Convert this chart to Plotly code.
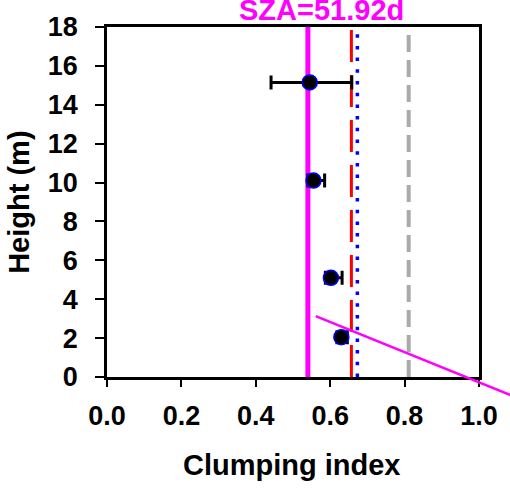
import plotly.graph_objects as go

# Data
height = [15.15, 10.1, 5.1, 2.05]
clump = [0.545, 0.555, 0.602, 0.630]
err_plus = [0.113, 0.03, 0.03, 0.016]
err_minus = [0.104, 0.015, 0.015, 0.012]

ref_magenta = 0.540
ref_red = 0.657
ref_blue = 0.673
ref_gray = 0.811
y_range = [0, 18]
x_ticks = [0.0, 0.2, 0.4, 0.6, 0.8, 1.0]
x_ticklabels = ["0.0", "0.2", "0.4", "0.6", "0.8", "1.0"]
y_ticks = [0, 2, 4, 6, 8, 10, 12, 14, 16, 18]
title_text = "SZA=51.92d"
x_title = "Clumping index"
y_title = "Height (m)"
# decorative diagonal line in paper coords
diag_x = [0.561, 1.10]
diag_y = [0.174, -0.058]

FONT = "Liberation Sans"

fig = go.Figure()

def vline(x, color, width, dash):
    fig.add_trace(go.Scatter(x=[x, x], y=y_range, mode="lines",
                             line=dict(color=color, width=width, dash=dash),
                             hoverinfo="skip", showlegend=False))

vline(ref_gray, "#aaaaaa", 4, "17px,8px")
vline(ref_magenta, "#ff00ff", 5, "solid")
vline(ref_red, "#ff0000", 3, "32px,13px")
vline(ref_blue, "#0000ff", 3.5, "3.5px,8.2px")

fig.add_trace(go.Scatter(
    x=clump, y=height, mode="markers",
    marker=dict(color="black", size=15, line=dict(color="#0000ff", width=1.5)),
    error_x=dict(type="data", array=err_plus, arrayminus=err_minus,
                 color="black", thickness=3, width=7, symmetric=False),
    showlegend=False, cliponaxis=False))

fig.add_shape(type="line", xref="paper", yref="paper",
              x0=diag_x[0], y0=diag_y[0], x1=diag_x[1], y1=diag_y[1],
              line=dict(color="#ff00ff", width=2.5))

fig.add_annotation(text="<b>" + title_text + "</b>", xref="paper", yref="paper",
                   x=0.577, y=0.996, xanchor="center", yanchor="bottom",
                   showarrow=False, font=dict(family=FONT, size=29, color="#ff00ff"))

fig.add_annotation(text="<b>" + x_title + "</b>", xref="paper", yref="paper",
                   x=0.497, y=-0.252, xanchor="center", yanchor="middle",
                   showarrow=False, font=dict(family=FONT, size=29, color="black"))
fig.add_annotation(text="<b>" + y_title + "</b>", xref="paper", yref="paper",
                   x=-0.237, y=0.5, xanchor="center", yanchor="middle", textangle=-90,
                   showarrow=False, font=dict(family=FONT, size=29, color="black"))

fig.update_layout(
    width=510, height=489,
    margin=dict(l=107, r=27, t=20, b=112),
    plot_bgcolor="white", paper_bgcolor="white",
    font=dict(family=FONT, color="black"),
    xaxis=dict(range=[0, 1.0], tickvals=x_ticks, ticktext=["<b>%s</b>" % t for t in x_ticklabels],
               showgrid=False, zeroline=False, showline=True, linecolor="black", linewidth=2.5,
               mirror=True, ticks="outside", ticklen=7, tickwidth=2, tickcolor="black",
               ticklabelstandoff=6,
               tickfont=dict(family=FONT, size=27)),
    yaxis=dict(range=y_range, tickvals=y_ticks, ticktext=["<b>%d</b>" % t for t in y_ticks],
               showgrid=False, zeroline=False, showline=True, linecolor="black", linewidth=2.5,
               mirror=True, ticks="outside", ticklen=9, tickwidth=2, tickcolor="black",
               ticklabelstandoff=12,
               tickfont=dict(family=FONT, size=27)),
)

fig.write_html("out.html")
